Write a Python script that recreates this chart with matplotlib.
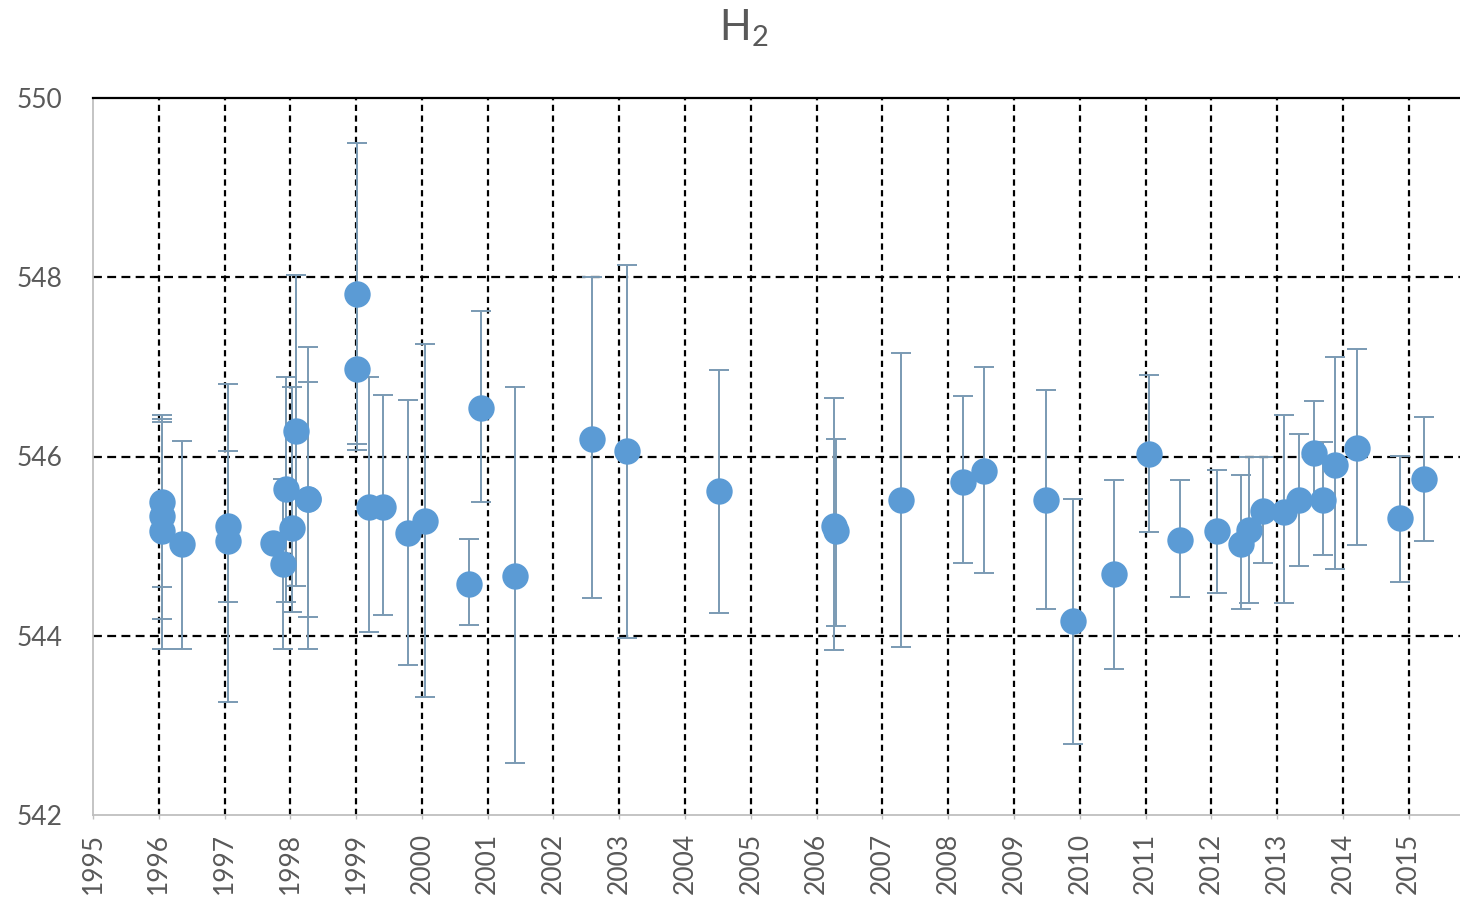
import matplotlib
matplotlib.use("Agg")
import matplotlib.pyplot as plt
import numpy as np

plt.rcParams['font.family'] = ['Lato', 'DejaVu Sans']
plt.rcParams['mathtext.fontset'] = 'custom'
plt.rcParams['mathtext.rm'] = 'Lato'
plt.rcParams['mathtext.it'] = 'Lato'

# Measurement epoch (decimal year), value and error-bar bounds
years = [1996.05, 1996.05, 1996.05, 1996.35, 1997.05, 1997.05, 1997.74, 1997.89,
         1997.94, 1998.02, 1998.09, 1998.27, 1998.27, 1999.01, 1999.01, 1999.19,
         1999.41, 1999.79, 2000.05, 2000.72, 2000.90, 2001.41, 2002.58, 2003.12,
         2004.52, 2006.26, 2006.29, 2007.28, 2008.22, 2008.54, 2009.48, 2009.89,
         2010.52, 2011.06, 2011.53, 2012.08, 2012.45, 2012.58, 2012.79, 2013.11,
         2013.34, 2013.56, 2013.70, 2013.88, 2014.22, 2014.87, 2015.24]
values = [545.49, 545.34, 545.17, 545.02, 545.23, 545.06, 545.04, 544.80,
          545.64, 545.20, 546.29, 545.53, 545.53, 547.81, 546.98, 545.44,
          545.44, 545.15, 545.28, 544.58, 546.54, 544.67, 546.20, 546.06,
          545.61, 545.23, 545.17, 545.52, 545.72, 545.84, 545.52, 544.17,
          544.69, 546.03, 545.07, 545.17, 545.02, 545.18, 545.39, 545.38,
          545.51, 546.04, 545.51, 545.91, 546.10, 545.31, 545.75]
lower = [544.54, 544.19, 543.85, 543.85, 544.38, 543.26, 545.04, 543.85,
         544.38, 544.27, 544.56, 543.85, 544.21, 546.07, 546.14, 544.04,
         544.23, 543.67, 543.32, 544.12, 545.49, 542.58, 544.42, 543.98,
         544.25, 543.84, 544.11, 543.88, 544.81, 544.70, 544.30, 542.79,
         543.63, 545.16, 544.43, 544.48, 544.30, 544.36, 544.81, 544.36,
         544.78, 545.50, 544.90, 544.74, 545.01, 544.60, 545.06]
upper = [546.46, 546.39, 546.42, 546.17, 546.06, 546.81, 545.04, 545.75,
         546.89, 546.78, 548.02, 547.22, 546.83, 549.50, 547.80, 546.89,
         546.69, 546.63, 547.25, 545.08, 547.62, 546.78, 548.00, 548.14,
         546.97, 546.65, 546.20, 547.16, 546.67, 547.00, 546.74, 545.53,
         545.74, 546.91, 545.74, 545.85, 545.79, 546.00, 546.00, 546.46,
         546.25, 546.62, 546.16, 547.11, 547.20, 546.01, 546.44]

year_ticks = list(range(1995, 2016))
value_ticks = [542, 544, 546, 548, 550]

x = np.array(years)
y = np.array(values)
err = np.vstack([y - np.array(lower), np.array(upper) - y])

fig = plt.figure(figsize=(14.60, 9.02), dpi=100)
ax = fig.add_axes([93 / 1460, 1 - 815 / 902, 1 - 93 / 1460, (815 - 98) / 902])

ax.set_xlim(1995, 2015.78)
ax.set_ylim(542, 550)

# grid
for yv in value_ticks[1:-1]:
    ax.axhline(yv, color='black', lw=1.6, ls=(0, (4.0, 2.4)), zorder=1)
for xv in year_ticks[1:]:
    ax.axvline(xv, color='black', lw=1.6, ls=(0, (2.8, 2.0)), zorder=1)

ax.errorbar(x, y, yerr=err, fmt='none', ecolor='#7A9AB3', elinewidth=1.4,
            capsize=7, capthick=1.4, zorder=3)
ax.plot(x, y, 'o', color='#5B9BD5', markersize=19, markeredgewidth=0, zorder=4)

ax.set_xticks(year_ticks)
ax.set_xticklabels([str(v) for v in year_ticks], rotation=90)
ax.set_yticks(value_ticks)
ax.set_yticklabels([str(v) for v in value_ticks])

ax.tick_params(axis='x', length=3, width=1, color='#BFBFBF', pad=10,
               labelsize=19, labelcolor='#595959')
ax.tick_params(axis='y', length=0, pad=22, labelsize=19, labelcolor='#595959')

for side in ['left', 'bottom']:
    ax.spines[side].set_color('#BFBFBF')
    ax.spines[side].set_linewidth(1.3)
ax.spines['right'].set_visible(False)
ax.spines['top'].set_color('black')
ax.spines['top'].set_linewidth(1.6)
ax.spines['top'].set_zorder(5)

fig.text(744 / 1460, 1 - 28 / 902, r'H$_\mathrm{2}$', ha='center', va='center',
         fontsize=30, color='#595959')

fig.savefig('out.png', dpi=100)
